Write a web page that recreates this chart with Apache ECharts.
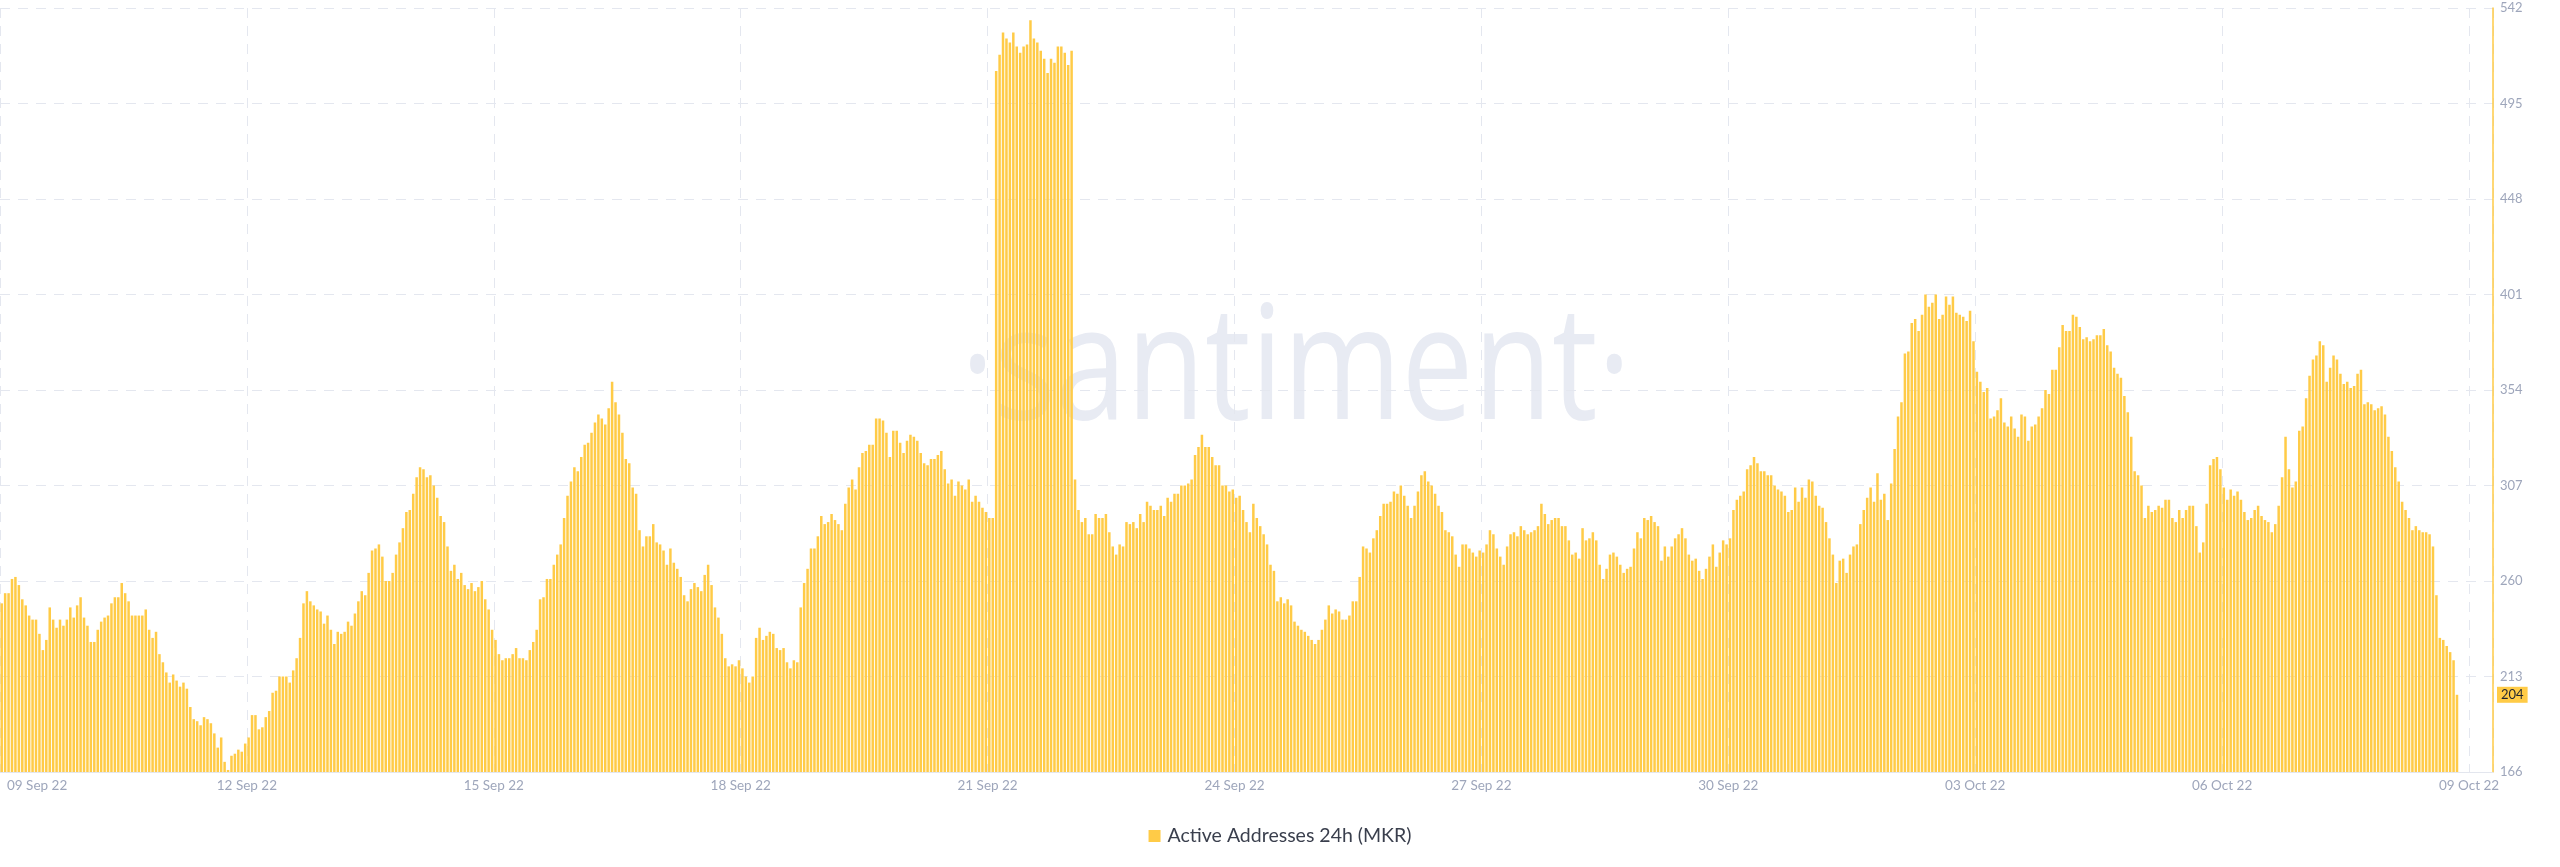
<!DOCTYPE html>
<html>
<head>
<meta charset="utf-8">
<script src="https://cdn.jsdelivr.net/npm/echarts@6/dist/echarts.min.js"></script>
<style>
html,body{margin:0;padding:0;background:#ffffff;}
#chart{width:2560px;height:867px;}
</style>
</head>
<body>
<div id="chart"></div>
<script>
// x-axis tick labels (one every 72 hours, starting 09 Sep 22 00:00)
const tickLabels = ['09 Sep 22','12 Sep 22','15 Sep 22','18 Sep 22','21 Sep 22','24 Sep 22','27 Sep 22','30 Sep 22','03 Oct 22','06 Oct 22','09 Oct 22'];
const hoursPerTick = 72;
const axisEndHour = 727;

// y-axis ticks
const yMin = 166, yMax = 542, yStep = 47;

// Active Addresses 24h (MKR), hourly values, in 3-day blocks
const sep09_11 = [249,254,254,261,262,258,251,248,243,241,241,234,226,231,247,241,237,241,238,241,247,242,248,252,242,238,230,230,236,240,242,243,249,252,252,259,254,250,243,243,243,243,246,236,232,235,224,220,215,210,214,211,208,210,207,198,192,191,189,193,192,190,185,178,183,171,167,174,175,177,176,180];
const sep12_14 = [183,194,194,187,188,193,196,205,206,213,213,213,210,216,222,232,249,255,250,248,246,245,239,243,236,229,235,234,235,240,238,244,250,255,253,264,275,276,278,272,260,260,264,273,279,286,294,295,303,311,316,315,311,312,307,301,292,289,277,265,268,261,264,258,256,259,255,257,260,251,246,236];
const sep15_17 = [231,224,221,222,222,224,227,222,222,221,226,230,236,251,252,261,261,268,273,278,291,302,309,316,314,321,327,328,333,338,342,340,337,345,358,348,342,333,320,318,306,303,285,277,282,282,288,279,278,275,268,276,269,266,262,253,250,256,259,257,255,263,268,258,247,242,234,222,218,219,218,221];
const sep18_20 = [217,213,210,213,232,237,231,233,235,234,227,226,227,220,217,221,220,247,259,266,276,276,282,292,288,289,293,290,288,285,298,306,310,305,316,323,324,327,327,340,340,339,333,321,334,334,328,323,329,332,331,329,323,318,317,320,320,322,324,315,308,310,302,309,307,305,310,299,302,299,296,294];
const sep21_23 = [291,291,511,519,530,527,525,530,523,520,523,524,536,527,525,521,517,510,517,515,523,523,520,514,521,310,295,289,291,283,283,293,291,291,293,284,277,273,278,277,289,288,289,286,293,289,299,297,295,295,297,292,301,299,303,303,307,307,308,310,322,326,332,326,326,321,317,317,307,307,304,305];
const sep24_26 = [301,302,295,289,284,298,291,287,283,278,268,265,250,252,249,251,248,240,238,236,235,233,231,229,231,236,241,248,244,246,245,241,241,243,250,250,262,277,276,274,281,285,292,298,298,299,304,303,307,302,297,291,297,304,312,314,309,307,303,297,294,285,284,282,273,267,278,278,276,274,272,275];
const sep27_29 = [274,278,285,283,276,272,268,277,283,284,282,287,285,283,284,285,287,298,293,288,290,291,291,287,287,280,273,274,271,286,280,281,284,280,268,261,266,273,274,272,268,264,266,267,276,284,281,291,290,292,289,287,270,277,272,277,281,283,286,281,273,270,271,265,261,266,272,278,267,274,280,278];
const sep30_oct02 = [281,295,300,302,304,315,317,321,318,314,314,312,312,307,305,304,302,294,295,306,299,306,301,310,309,302,297,296,289,281,273,259,270,271,264,273,277,278,288,295,301,306,299,313,300,303,290,308,325,341,348,372,373,387,389,383,391,401,395,397,401,389,391,400,396,400,392,391,390,388,393,378];
const oct03_05 = [363,358,353,355,340,341,344,350,338,336,341,335,331,342,341,329,336,337,341,345,354,352,364,364,375,386,383,383,391,390,385,379,380,378,379,381,381,384,376,373,365,362,360,351,343,331,314,312,307,291,297,294,295,297,296,300,300,291,289,295,291,295,297,297,287,274,279,298,317,320,321,315];
const oct06_08 = [306,300,305,302,304,300,294,290,291,295,297,292,290,289,284,288,297,311,331,315,306,309,334,336,350,361,369,371,378,376,358,365,371,369,362,357,358,355,356,362,364,347,348,347,344,345,346,342,331,324,316,309,299,295,291,285,287,285,284,284,283,277,253,232,231,228,225,221,204];

const seriesName = 'Active Addresses 24h (MKR)';
const barColor = '#ffcb47';

const values = [].concat(sep09_11, sep12_14, sep15_17, sep18_20, sep21_23, sep24_26, sep27_29, sep30_oct02, oct03_05, oct06_08);
const lastValue = values[values.length - 1];
const barData = values.map((v, i) => [i + 0.5, v]);

const chart = echarts.init(document.getElementById('chart'), null, {renderer: 'canvas'});
chart.setOption({
  animation: false,
  backgroundColor: '#ffffff',
  textStyle: {fontFamily: 'Lato'},
  grid: {left: 0, right: 67, top: 8, bottom: 95, containLabel: false},
  graphic: [{
    type: 'text',
    x: 1296,
    y: 373,
    scaleX: 0.8,
    z: -10,
    silent: true,
    style: {
      text: '\u00B7santiment\u00B7',
      font: '400 160px "Open Sans"',
      fill: '#e8ebf3',
      align: 'center',
      verticalAlign: 'middle'
    }
  }],
  legend: {
    show: true,
    top: 821,
    left: 'center',
    icon: 'rect',
    itemWidth: 12,
    itemHeight: 12,
    itemGap: 20,
    textStyle: {fontSize: 19.5, color: '#3a3f4d', fontFamily: 'Lato', padding: [0, 0, 0, 2]},
    data: [seriesName]
  },
  xAxis: {
    type: 'value',
    min: 0,
    max: axisEndHour,
    interval: hoursPerTick,
    axisLine: {show: true, lineStyle: {color: '#e3e6ee', width: 1}},
    axisTick: {show: false},
    splitLine: {show: true, lineStyle: {color: '#e4e7ef', type: [10, 8], width: 1}},
    axisLabel: {
      color: '#9ea6bb',
      fontSize: 13.5,
      fontFamily: 'Lato',
      margin: 7,
      alignMinLabel: 'left',
      formatter: function (v) {
        if (v % hoursPerTick !== 0) return '';
        const lbl = tickLabels[v / hoursPerTick];
        return v === 0 ? '{first|' + lbl + '}' : lbl;
      },
      rich: {first: {padding: [0, 0, 0, 7], color: '#9ea6bb', fontSize: 13.5, fontFamily: 'Lato'}}
    }
  },
  yAxis: {
    type: 'value',
    position: 'right',
    min: yMin,
    max: yMax,
    interval: yStep,
    axisLine: {show: true, onZero: false, lineStyle: {color: barColor, width: 1.5}},
    axisTick: {show: false},
    splitLine: {show: true, lineStyle: {color: '#e4e7ef', type: [10, 8], width: 1}},
    axisLabel: {color: '#9ea6bb', fontSize: 13, fontFamily: 'Lato', margin: 7}
  },
  series: [{
    name: seriesName,
    type: 'bar',
    data: barData,
    barWidth: 2.5,
    itemStyle: {color: barColor},
    z: 2,
    markLine: {
      silent: true,
      symbol: 'none',
      animation: false,
      data: [{yAxis: lastValue}],
      lineStyle: {color: 'rgba(255,255,255,0)', width: 0, opacity: 1},
      label: {
        show: true,
        position: 'end',
        distance: 4,
        formatter: String(lastValue),
        backgroundColor: barColor,
        color: '#1f2430',
        opacity: 1,
        fontSize: 13,
        fontFamily: 'Lato',
        padding: [2, 4, 1, 4]
      }
    }
  }]
});
</script>
</body>
</html>
